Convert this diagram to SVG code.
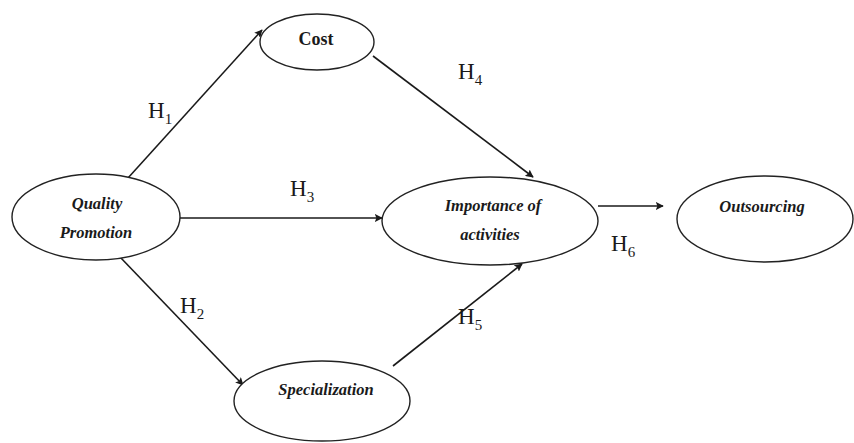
<svg xmlns="http://www.w3.org/2000/svg" width="854" height="443" viewBox="0 0 854 443">
<style>
.lbl{font-family:"Liberation Serif",serif;font-style:italic;font-weight:bold;font-size:16.5px;fill:#1a1a1a;text-anchor:middle}
.cost{font-family:"Liberation Serif",serif;font-weight:bold;font-size:18px;fill:#1a1a1a;text-anchor:middle}
.h{font-family:"Liberation Serif",serif;font-size:23px;fill:#1a1a1a}
.h tspan{font-size:15px}
.edge{stroke:#1a1a1a;stroke-width:1.6;fill:none;marker-end:url(#arr)}
</style>
<defs>
<marker id="arr" viewBox="0 0 10 10" refX="9" refY="5" markerWidth="8" markerHeight="8" markerUnits="userSpaceOnUse" orient="auto">
<path d="M0,0 L10,5 L0,10 L2,5 z" fill="#1a1a1a"/>
</marker>
</defs>
<rect width="854" height="443" fill="#fff"/>
<g id="connectors">
<line class="edge" x1="128" y1="178" x2="262" y2="30"/>
<line class="edge" x1="373" y1="56" x2="533" y2="177"/>
<line class="edge" x1="180" y1="218" x2="382" y2="218"/>
<line class="edge" x1="598" y1="206" x2="663" y2="206"/>
<line class="edge" x1="120" y1="257" x2="243" y2="385"/>
<line class="edge" x1="393" y1="366" x2="522" y2="264"/>
</g>
<g id="quality">
<ellipse cx="96" cy="217" rx="84" ry="43" fill="#fff" stroke="#222" stroke-width="1.4"/>
<text class="lbl" x="97" y="209">Quality</text>
<text class="lbl" x="96" y="238">Promotion</text>
</g>
<g id="cost">
<ellipse cx="317" cy="42" rx="57" ry="28" fill="#fff" stroke="#222" stroke-width="1.4"/>
<text class="cost" x="316" y="45">Cost</text>
</g>
<g id="importance">
<ellipse cx="490" cy="221" rx="108" ry="44" fill="#fff" stroke="#222" stroke-width="1.4"/>
<text class="lbl" x="493" y="211">Importance of</text>
<text class="lbl" x="490" y="240">activities</text>
</g>
<g id="outsourcing">
<ellipse cx="765" cy="219" rx="88" ry="43" fill="#fff" stroke="#222" stroke-width="1.4"/>
<text class="lbl" x="762" y="212">Outsourcing</text>
</g>
<g id="specialization">
<ellipse cx="322" cy="401" rx="88" ry="40" fill="#fff" stroke="#222" stroke-width="1.4"/>
<text class="lbl" x="326" y="395">Specialization</text>
</g>
<g id="labels">
<text class="h" x="148" y="118">H<tspan dy="6">1</tspan></text>
<text class="h" x="458" y="79">H<tspan dy="6">4</tspan></text>
<text class="h" x="290" y="196">H<tspan dy="6">3</tspan></text>
<text class="h" x="611" y="251">H<tspan dy="6">6</tspan></text>
<text class="h" x="180" y="313">H<tspan dy="6">2</tspan></text>
<text class="h" x="458" y="324">H<tspan dy="6">5</tspan></text>
</g>
</svg>
